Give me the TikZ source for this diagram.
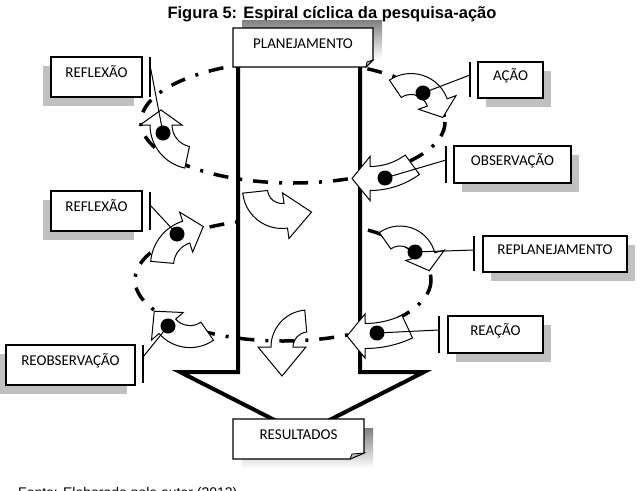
\documentclass[tikz,border=0pt]{standalone}
\usepackage{fontspec}
\setmainfont{Carlito}
\newfontfamily\arialfont{Liberation Sans}
\usetikzlibrary{calc,shadows}
\definecolor{shade}{RGB}{192,192,192}
\tikzset{
 spiral/.style={line width=3.5pt, dash pattern=on 15pt off 11pt on 3pt off 11pt},
 arrowshape/.style={draw=black, fill=white, line width=1pt, line join=miter},
 labelbox/.style={draw=black, fill=white, line width=1.2pt, inner sep=0pt, text height=10pt, text depth=8.7pt, font=\fontsize{15}{17}\selectfont},
 shL/.style={drop shadow={shadow xshift=-8pt, shadow yshift=-9pt, fill=shade, opacity=1}},
 shR/.style={drop shadow={shadow xshift=8pt, shadow yshift=-9pt, fill=shade, opacity=1}},
 barline/.style={line width=1.3pt},
 wire/.style={line width=1pt},
 shaft/.style={line width=4pt, fill=white, line join=miter},
 plainlabel/.style={inner sep=0pt, text height=10pt, text depth=8.7pt, font=\fontsize{15}{17}\selectfont},
}
% curved arrow: cx, cy, mid radius, width, tail angle, head angle, sense, head half-width, tip length
\newcommand\carrow[9]{%
\pgfmathsetmacro\cRo{#3+#4/2}%
\pgfmathsetmacro\cRi{#3-#4/2}%
\pgfmathsetmacro\cHo{#3+#8}%
\pgfmathsetmacro\cHi{#3-#8}%
\pgfmathsetmacro\cTd{#6+90*#7}%
\pgfmathsetmacro\cTx{#1+#3*cos(#6)+#9*cos(\cTd)}%
\pgfmathsetmacro\cTy{#2+#3*sin(#6)+#9*sin(\cTd)}%
\draw[arrowshape] ($(#1,#2)+(#5:\cRo)$) arc[start angle=#5,end angle=#6,radius=\cRo]
 -- ($(#1,#2)+(#6:\cHo)$) -- (\cTx,\cTy) -- ($(#1,#2)+(#6:\cHi)$)
 -- ($(#1,#2)+(#6:\cRi)$) arc[start angle=#6,end angle=#5,radius=\cRi] -- cycle;}
\begin{document}
\begin{tikzpicture}[x=1pt,y=-1pt]
\useasboundingbox (0,0) rectangle (642,490);
\fill[white] (0,0) rectangle (642,490);
% title
\node[font=\arialfont\bfseries\fontsize{16.5}{19}\selectfont, anchor=base] (title) at (332,18) {Figura 5: Espiral cíclica da pesquisa-ação};
% spiral ellipses (back)
\draw[spiral] (293,122) ellipse[x radius=152, y radius=61];
\draw[spiral] (283,280) ellipse[x radius=148, y radius=61];
% big arrow
\draw[shaft] (238,62) -- (238,372) -- (180,372) -- (302,434) -- (424,372) -- (360,372) -- (360,62);
% arrows inside shaft
\carrow{282}{189}{27}{25}{174}{82}{-1}{23}{26}
\carrow{308}{347}{26}{22}{265}{180}{-1}{24}{29}
% front parts of ellipses over the shaft
\begin{scope}
\clip (240,122) rectangle (358,190);
\draw[spiral] (293,122) ellipse[x radius=152, y radius=61];
\end{scope}
\begin{scope}
\clip (240,280) rectangle (358,350);
\draw[spiral] (283,280) ellipse[x radius=148, y radius=61];
\end{scope}
% side arrows
\carrow{194}{125}{33}{22}{102}{180}{1}{21}{15}
\carrow{411}{112}{28}{21}{236}{340}{1}{20}{16}
\carrow{370}{106.5}{72}{24}{54}{90}{1}{22}{18}
\carrow{197}{265.4}{35}{23}{185}{252}{1}{21}{18}
\carrow{400}{262}{26}{20}{235}{345}{1}{20}{16}
\carrow{365}{236}{100}{25}{65}{90}{1}{22}{18}
\carrow{190}{306.6}{30}{22}{55}{139}{1}{21}{20}
% dots
\coordinate (d1) at (163,133);
\coordinate (d2) at (423,93);
\coordinate (d3) at (385,178);
\coordinate (d4) at (177,234);
\coordinate (d5) at (415,252);
\coordinate (d6) at (377,333);
\coordinate (d7) at (168,326);
\foreach \d in {d1,d2,d3,d4,d5,d6,d7} \fill (\d) circle[radius=7.5];
% bars
\coordinate (b1) at (150,65);
\coordinate (b2) at (470,75);
\coordinate (b3) at (446,160);
\coordinate (b4) at (150,205);
\coordinate (b5) at (474,250);
\coordinate (b6) at (439,330);
\coordinate (b7) at (143,357);
\draw[barline] (150,57) -- (150,97);
\draw[barline] (470,62) -- (470,97);
\draw[barline] (446,146) -- (446,183);
\draw[barline] (150,192) -- (150,230);
\draw[barline] (474,236) -- (474,271);
\draw[barline] (439,316) -- (439,353);
\draw[barline] (143,345) -- (143,383);
\foreach \i in {1,...,7} \draw[wire] (d\i) -- (b\i);
% label boxes
\node[labelbox, shL, minimum width=91pt, minimum height=40pt] (refl1) at (96.5,77) {REFLEXÃO};
\node[labelbox, shR, minimum width=65pt, minimum height=36pt] (acao) at (510.5,80) {AÇÃO};
\node[labelbox, shR, minimum width=117pt, minimum height=37pt] (obs) at (512.5,164.5) {OBSERVAÇÃO};
\node[labelbox, shL, minimum width=91pt, minimum height=40pt] (refl2) at (96.5,211) {REFLEXÃO};
\node[labelbox, shR, minimum width=144pt, minimum height=36pt] (replan) at (555,254) {REPLANEJAMENTO};
\node[labelbox, shR, minimum width=95pt, minimum height=37pt] (reac) at (495.5,334.5) {REAÇÃO};
\node[labelbox, shL, minimum width=129pt, minimum height=40pt] (reobs) at (70.5,365) {REOBSERVAÇÃO};
% planejamento box with fold
\fill[shade] (242,20) rectangle (382,59);
\draw[fill=white, line width=1.2pt] (233,28) -- (373,28) -- (373,60) -- (366,67) -- (233,67) -- cycle;
\draw[fill=shade, line width=0.8pt] (366,67) -- (367,62) -- (373,60) -- cycle;
\node[plainlabel] (plan) at (303,47.5) {PLANEJAMENTO};
% resultados box with fold
\fill[shade] (242,428) rectangle (373,468);
\draw[fill=white, line width=1.2pt] (233,419) -- (364,419) -- (364,453) -- (350,459) -- (233,459) -- cycle;
\draw[fill=shade, line width=0.8pt] (350,459) -- (352,454) -- (364,453) -- cycle;
\node[plainlabel] (res) at (298.5,439) {RESULTADOS};
% source line (cut at the page edge, as in the reference)
\node[font=\arialfont\fontsize{14}{16}\selectfont, anchor=base west, inner sep=0pt] (src) at (18,497) {Fonte: Elaborado pelo autor (2013)};
\end{tikzpicture}
\end{document}
